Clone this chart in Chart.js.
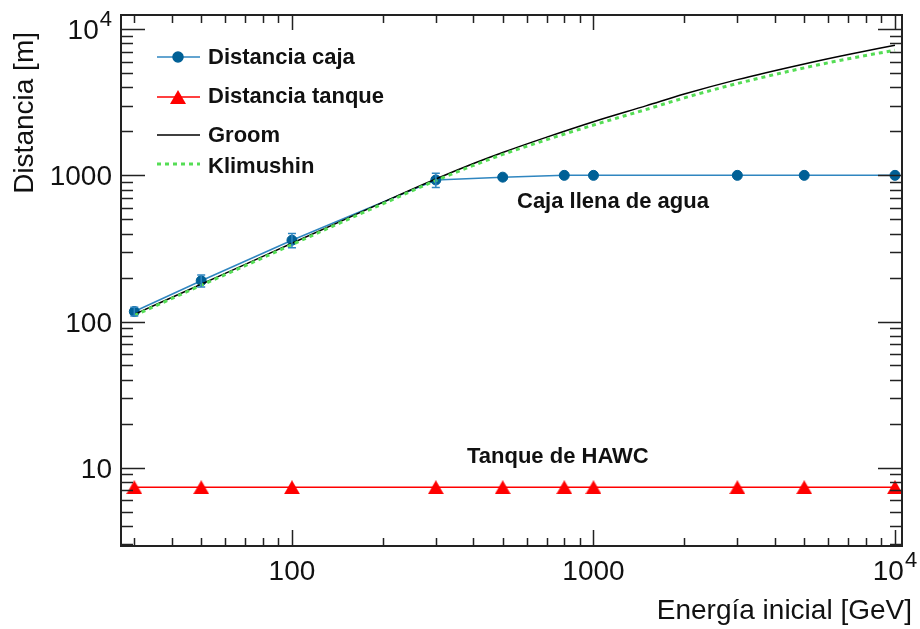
<!DOCTYPE html>
<html>
<head>
<meta charset="utf-8">
<script src="https://cdn.jsdelivr.net/npm/chart.js@4"></script>
<style>
  html, body { margin: 0; padding: 0; background: #fff; }
  canvas { display: block; }
</style>
</head>
<body>
<canvas id="rangeChart" width="920" height="629"></canvas>
<script>
// measured points (box and tank)
const energies = [30, 50, 100, 300, 500, 800, 1000, 3000, 5000, 10000];
const cajaDist = [117, 190, 360, 930, 972, 1000, 1000, 1000, 1000, 1000];
const cajaErr = [8, 18, 40, 105, 0, 0, 0, 0, 0, 0];
const tanqueDist = [7.35, 7.35, 7.35, 7.35, 7.35, 7.35, 7.35, 7.35, 7.35, 7.35];

// range parametrisations
const curveEnergies = [30, 50, 70, 100, 150, 200, 300, 400, 500, 700, 1000, 1500, 2000, 3000, 5000, 7000, 10000];
const groom = [112, 180, 246, 343, 500, 653, 944, 1205, 1434, 1827, 2330, 3000, 3600, 4520, 5790, 6720, 7770];
const klimushin = [110, 177, 241, 336, 490, 638, 922, 1170, 1390, 1755, 2210, 2830, 3390, 4250, 5440, 6280, 7180];

const xMajorTicks = [100, 1000, 10000];
const xTickLabels = ["100", "1000", "10^4"];
const yMajorTicks = [10, 100, 1000, 10000];
const yTickLabels = ["10", "100", "1000", "10^4"];

const BLUE_LINE = "#2f86c0";
const BLUE_MARK = "#006096";
const RED = "#ff0000";
const GREEN = "#55dd55";
const INK = "#222";

const pts = (xs, ys) => xs.map((x, i) => ({ x: x, y: ys[i] }));

// filled triangle centred on its bounding box
function triangleMarker(color, w, h) {
    const c = document.createElement("canvas");
    c.width = w;
    c.height = h;
    const g = c.getContext("2d");
    g.fillStyle = color;
    g.beginPath();
    g.moveTo(w / 2, 0);
    g.lineTo(w, h);
    g.lineTo(0, h);
    g.closePath();
    g.fill();
    return c;
}
const redTriangle = triangleMarker(RED, 16, 14);

// label like "10^4" gets a raised exponent
function drawTickLabel(ctx, text, x, y, align) {
    const parts = text.split("^");
    ctx.font = "28px 'Liberation Sans', Arial, sans-serif";
    const wBase = ctx.measureText(parts[0]).width;
    let wExp = 0;
    if (parts[1]) {
        ctx.font = "22px 'Liberation Sans', Arial, sans-serif";
        wExp = ctx.measureText(parts[1]).width + 1;
    }
    const total = wBase + wExp;
    let left = x - total / 2;
    if (align === "right") left = x - total;
    ctx.textAlign = "left";
    ctx.textBaseline = "alphabetic";
    ctx.font = "28px 'Liberation Sans', Arial, sans-serif";
    ctx.fillText(parts[0], left, y);
    if (parts[1]) {
        ctx.font = "22px 'Liberation Sans', Arial, sans-serif";
        ctx.fillText(parts[1], left + wBase + 1, y - 13);
    }
}

function minorValues(lo, hi) {
    const out = [];
    for (let d = Math.floor(Math.log10(lo)); d <= Math.ceil(Math.log10(hi)); d++) {
        for (let m = 2; m <= 9; m++) {
            const v = m * Math.pow(10, d);
            if (v >= lo && v <= hi) out.push(v);
        }
    }
    return out;
}

const framePlugin = {
    id: "frame",
    afterDatasetsDraw(chart) {
        const ctx = chart.ctx;
        const xs = chart.scales.x;
        const ys = chart.scales.y;

        // error bars on the box points
        ctx.save();
        ctx.strokeStyle = BLUE_LINE;
        ctx.lineWidth = 1.5;
        energies.forEach((e, i) => {
            if (!cajaErr[i]) return;
            const px = xs.getPixelForValue(e);
            const top = ys.getPixelForValue(cajaDist[i] + cajaErr[i]);
            const bot = ys.getPixelForValue(cajaDist[i] - cajaErr[i]);
            ctx.beginPath();
            ctx.moveTo(px, top);
            ctx.lineTo(px, bot);
            ctx.moveTo(px - 4, top);
            ctx.lineTo(px + 4, top);
            ctx.moveTo(px - 4, bot);
            ctx.lineTo(px + 4, bot);
            ctx.stroke();
        });
        ctx.restore();
    },
    afterDraw(chart) {
        const ctx = chart.ctx;
        const area = chart.chartArea;
        const xs = chart.scales.x;
        const ys = chart.scales.y;
        ctx.save();

        // frame
        ctx.strokeStyle = INK;
        ctx.lineWidth = 2;
        ctx.strokeRect(area.left, area.top, area.right - area.left, area.bottom - area.top);

        ctx.lineWidth = 1.5;
        ctx.beginPath();
        xMajorTicks.forEach((v) => {
            const px = Math.round(xs.getPixelForValue(v)) + 0.5;
            ctx.moveTo(px, area.bottom); ctx.lineTo(px, area.bottom - 16);
            ctx.moveTo(px, area.top); ctx.lineTo(px, area.top + 15);
        });
        minorValues(xs.min, xs.max).forEach((v) => {
            const px = Math.round(xs.getPixelForValue(v)) + 0.5;
            ctx.moveTo(px, area.bottom); ctx.lineTo(px, area.bottom - 8);
            ctx.moveTo(px, area.top); ctx.lineTo(px, area.top + 8);
        });
        yMajorTicks.forEach((v) => {
            const py = Math.round(ys.getPixelForValue(v)) + 0.5;
            ctx.moveTo(area.left, py); ctx.lineTo(area.left + 24, py);
            ctx.moveTo(area.right, py); ctx.lineTo(area.right - 24, py);
        });
        minorValues(ys.min, ys.max).forEach((v) => {
            const py = Math.round(ys.getPixelForValue(v)) + 0.5;
            ctx.moveTo(area.left, py); ctx.lineTo(area.left + 12, py);
            ctx.moveTo(area.right, py); ctx.lineTo(area.right - 12, py);
        });
        ctx.stroke();

        // tick labels
        ctx.fillStyle = "#111";
        xMajorTicks.forEach((v, i) => {
            drawTickLabel(ctx, xTickLabels[i], xs.getPixelForValue(v), 580, "center");
        });
        yMajorTicks.forEach((v, i) => {
            drawTickLabel(ctx, yTickLabels[i], 112, ys.getPixelForValue(v) + 10, "right");
        });

        // axis titles
        ctx.font = "28px 'Liberation Sans', Arial, sans-serif";
        ctx.textAlign = "right";
        ctx.textBaseline = "alphabetic";
        ctx.fillText("Energía inicial [GeV]", 912, 619);
        ctx.save();
        ctx.translate(33, 32);
        ctx.rotate(-Math.PI / 2);
        ctx.fillText("Distancia [m]", 0, 0);
        ctx.restore();

        // annotations
        ctx.font = "bold 22px 'Liberation Sans', Arial, sans-serif";
        ctx.textAlign = "left";
        ctx.fillText("Caja llena de agua", 517, 208);
        ctx.fillText("Tanque de HAWC", 467, 463);

        // legend
        const rows = [
            { ds: 0, line: 57, base: 64 },
            { ds: 1, line: 97, base: 103 },
            { ds: 2, line: 135, base: 142 },
            { ds: 3, line: 164, base: 173 },
        ];
        rows.forEach((r) => {
            const ds = chart.data.datasets[r.ds];
            ctx.save();
            ctx.strokeStyle = ds.borderColor;
            ctx.lineWidth = ds.borderWidth;
            if (ds.borderDash) ctx.setLineDash(ds.borderDash);
            ctx.beginPath();
            ctx.moveTo(157, r.line);
            ctx.lineTo(200, r.line);
            ctx.stroke();
            ctx.restore();
            if (ds.pointRadius > 0) {
                ctx.fillStyle = ds.pointBackgroundColor;
                ctx.strokeStyle = ds.pointBorderColor;
                Chart.helpers.drawPoint(ctx, {
                    pointStyle: ds.pointStyle,
                    radius: ds.pointRadius,
                    borderWidth: ds.pointBorderWidth,
                    rotation: 0,
                }, 178, r.line);
            }
            ctx.fillStyle = "#111";
            ctx.font = "bold 22px 'Liberation Sans', Arial, sans-serif";
            ctx.textAlign = "left";
            ctx.textBaseline = "alphabetic";
            ctx.fillText(ds.label, 208, r.base);
        });

        ctx.restore();
    },
};

new Chart(document.getElementById("rangeChart"), {
    type: "line",
    data: {
        datasets: [
            {
                label: "Distancia caja",
                data: pts(energies, cajaDist),
                borderColor: BLUE_LINE,
                borderWidth: 1.5,
                pointStyle: "circle",
                pointRadius: 5,
                pointBackgroundColor: BLUE_MARK,
                pointBorderColor: BLUE_MARK,
                pointBorderWidth: 1,
                order: 3,
            },
            {
                label: "Distancia tanque",
                data: pts(energies, tanqueDist),
                borderColor: RED,
                borderWidth: 1.5,
                pointStyle: redTriangle,
                pointRadius: 8,
                pointBackgroundColor: RED,
                pointBorderColor: RED,
                pointBorderWidth: 0,
                order: 3,
            },
            {
                label: "Groom",
                data: pts(curveEnergies, groom),
                borderColor: "#000",
                borderWidth: 1.5,
                pointRadius: 0,
                cubicInterpolationMode: "monotone",
                order: 2,
            },
            {
                label: "Klimushin",
                data: pts(curveEnergies, klimushin),
                borderColor: GREEN,
                borderWidth: 3,
                borderDash: [4, 4],
                pointRadius: 0,
                cubicInterpolationMode: "monotone",
                order: 1,
            },
        ],
    },
    options: {
        responsive: false,
        animation: false,
        layout: {
            padding: { left: 121, right: 18, top: 15, bottom: 83 },
        },
        plugins: {
            legend: { display: false },
            tooltip: { enabled: false },
        },
        scales: {
            x: {
                type: "logarithmic",
                min: 27.1,
                max: 10550,
                display: false,
            },
            y: {
                type: "logarithmic",
                min: 2.91,
                max: 12510,
                display: false,
            },
        },
    },
    plugins: [framePlugin],
});
</script>
</body>
</html>
